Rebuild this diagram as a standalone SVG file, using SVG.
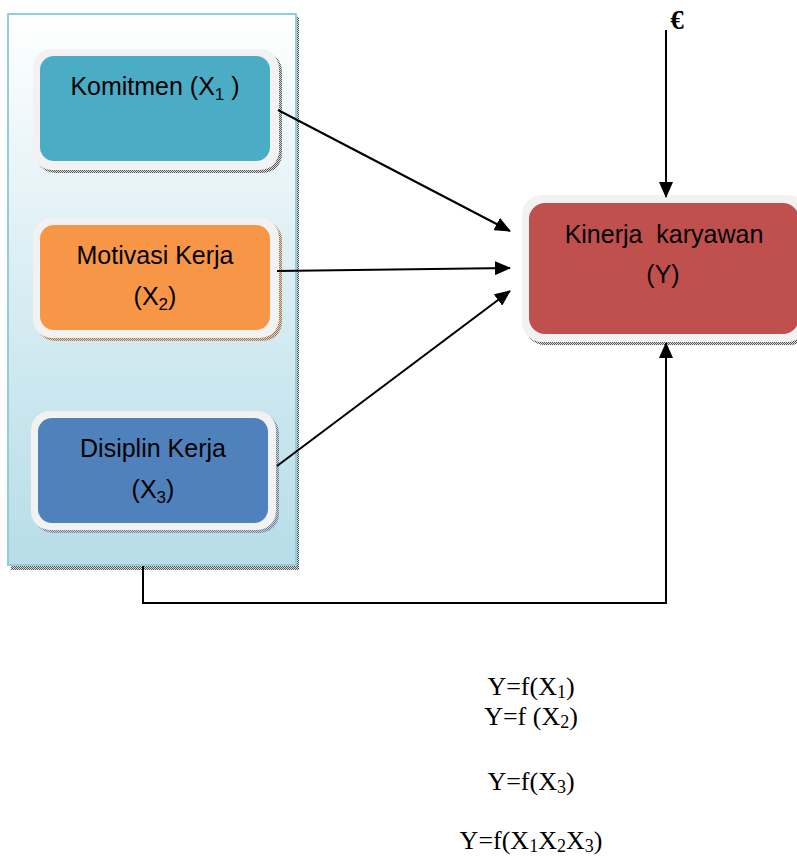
<svg xmlns="http://www.w3.org/2000/svg" width="797" height="856" viewBox="0 0 797 856">
<style>
.lbl{font-family:"Liberation Sans",Arial,sans-serif;font-size:25px;fill:#000;text-anchor:middle}
.sub{font-size:17px}
.eq{font-family:"Liberation Serif","Times New Roman",serif;font-size:26px;fill:#000;text-anchor:middle}
.esub{font-size:18px}
.conn{stroke:#000;stroke-width:2;fill:none}
.outer{fill:#F2F2F2}
</style>
<defs>
<linearGradient id="pg" x1="0" y1="0" x2="0" y2="1">
<stop offset="0" stop-color="#FFFFFF"/>
<stop offset="0.5" stop-color="#D8EDF3"/>
<stop offset="1" stop-color="#B7DDE8"/>
</linearGradient>
<pattern id="dots" width="2" height="2" patternUnits="userSpaceOnUse">
<rect width="2" height="2" fill="#DDDDDD"/>
<rect width="1" height="1" fill="#555555"/>
<rect x="1" y="1" width="1" height="1" fill="#555555"/>
</pattern>
<pattern id="dotsB" width="2" height="2" patternUnits="userSpaceOnUse">
<rect width="2" height="2" fill="#E8D2BE"/>
<rect width="1" height="1" fill="#9C7352"/>
<rect x="1" y="1" width="1" height="1" fill="#9C7352"/>
</pattern>
<pattern id="dotsC" width="2" height="2" patternUnits="userSpaceOnUse">
<rect width="2" height="2" fill="#C8D3E0"/>
<rect width="1" height="1" fill="#6B7F99"/>
<rect x="1" y="1" width="1" height="1" fill="#6B7F99"/>
</pattern>
<marker id="ah" markerWidth="16" markerHeight="14" refX="15" refY="7" orient="auto" markerUnits="userSpaceOnUse">
<path d="M0,0 L16,7 L0,14 Z" fill="#000"/>
</marker>
</defs>

<g id="panel">
<rect x="11" y="17" width="288" height="553" fill="url(#dots)"/>
<rect x="8" y="14" width="288" height="551" fill="url(#pg)" stroke="#92CDDC" stroke-width="2"/>
</g>

<g id="komitmen">
<rect x="36" y="52" width="246" height="121" rx="19" fill="url(#dots)"/>
<rect x="33" y="49" width="246" height="121" rx="19" class="outer"/>
<rect x="40" y="56" width="230" height="105" rx="14" fill="#4BACC6"/>
<text class="lbl" x="155" y="95">Komitmen (X<tspan class="sub" dy="5">1</tspan><tspan dy="-5"> )</tspan></text>
</g>

<g id="motivasi">
<rect x="36" y="221" width="246" height="120" rx="19" fill="url(#dotsB)"/>
<rect x="33" y="218" width="246" height="120" rx="19" class="outer"/>
<rect x="40" y="225" width="230" height="105" rx="14" fill="#F79646"/>
<text class="lbl" x="155" y="264">Motivasi Kerja</text>
<text class="lbl" x="155" y="305">(X<tspan class="sub" dy="5">2</tspan><tspan dy="-5">)</tspan></text>
</g>

<g id="disiplin">
<rect x="34" y="414" width="245" height="119" rx="19" fill="url(#dotsC)"/>
<rect x="31" y="411" width="245" height="119" rx="19" class="outer"/>
<rect x="38" y="418" width="230" height="105" rx="14" fill="#4F81BD"/>
<text class="lbl" x="153" y="457">Disiplin Kerja</text>
<text class="lbl" x="153" y="498">(X<tspan class="sub" dy="5">3</tspan><tspan dy="-5">)</tspan></text>
</g>

<g id="kinerja">
<rect x="525" y="198" width="285" height="147" rx="20" fill="url(#dots)"/>
<rect x="522" y="195" width="285" height="147" rx="20" class="outer"/>
<rect x="529" y="203" width="270" height="131" rx="16" fill="#C0504D"/>
<text class="lbl" x="664" y="243">Kinerja&#160; karyawan</text>
<text class="lbl" x="663" y="283">(Y)</text>
</g>

<g id="error">
<text x="677" y="29" font-family="Liberation Serif,'Times New Roman',serif" font-size="27" font-weight="bold" text-anchor="middle">€</text>
</g>

<g id="connectors">
<line class="conn" x1="278" y1="110" x2="510" y2="231" marker-end="url(#ah)"/>
<line class="conn" x1="277" y1="271" x2="510" y2="268" marker-end="url(#ah)"/>
<line class="conn" x1="277" y1="466" x2="510" y2="291" marker-end="url(#ah)"/>
<line class="conn" x1="666" y1="30" x2="666" y2="197" marker-end="url(#ah)"/>
<polyline class="conn" points="143,566 143,603 666,603 666,343" marker-end="url(#ah)"/>
</g>

<g id="equations">
<text class="eq" x="531" y="695">Y=f(X<tspan class="esub" dy="3">1</tspan><tspan dy="-3">)</tspan></text>
<text class="eq" x="531" y="725">Y=f (X<tspan class="esub" dy="3">2</tspan><tspan dy="-3">)</tspan></text>
<text class="eq" x="531" y="790">Y=f(X<tspan class="esub" dy="3">3</tspan><tspan dy="-3">)</tspan></text>
<text class="eq" x="531" y="849">Y=f(X<tspan class="esub" dy="3">1</tspan><tspan dy="-3">X</tspan><tspan class="esub" dy="3">2</tspan><tspan dy="-3">X</tspan><tspan class="esub" dy="3">3</tspan><tspan dy="-3">)</tspan></text>
</g>
</svg>
